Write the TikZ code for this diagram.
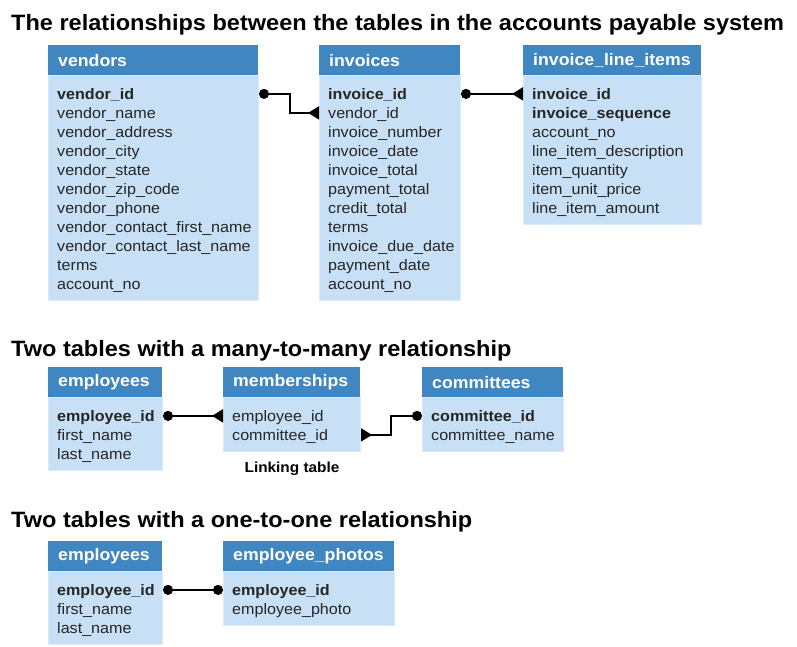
\documentclass[tikz,border=0pt]{standalone}
\usepackage{fontspec}
\setmainfont{Liberation Sans}[FakeStretch=1.06]
\usepackage{tikz}
\usetikzlibrary{arrows.meta,positioning}

\definecolor{headblue}{RGB}{64,134,192}
\definecolor{bodyblue}{RGB}{200,224,245}
\definecolor{edgeblue}{RGB}{218,234,249}
\definecolor{fieldgray}{RGB}{38,38,38}

\tikzset{
  heading/.style={anchor=base west, inner sep=0pt, font=\fontsize{22.2}{26}\selectfont\bfseries},
  tblhead/.style={fill=headblue, anchor=north west, minimum height=30pt, inner sep=0pt},
  tbltitle/.style={text=white, inner sep=0pt, font=\fontsize{16.7}{20}\selectfont\bfseries},
  tblbody/.style={fill=bodyblue, draw=edgeblue, line width=1pt, anchor=north west, inner sep=0pt},
  pkey/.style={anchor=west, inner sep=0pt, text height=11pt, text depth=0pt, text=fieldgray, font=\fontsize{15.2}{18}\selectfont\bfseries},
  attr/.style={pkey, font=\fontsize{15.2}{18}\selectfont},
  note/.style={inner sep=0pt, font=\fontsize{14.5}{17}\selectfont\bfseries},
  link/.style={line width=1.8pt, {Circle[length=10pt]}-{Triangle[reversed,length=11pt,width=13pt]}},
  oneone/.style={line width=1.8pt, {Circle[length=10pt]}-{Circle[length=10pt]}}
}

\begin{document}
\begin{tikzpicture}[x=1pt,y=-1pt]

\useasboundingbox (0,0) rectangle (797,647);

\begin{scope}
\def\dbtable(#1)#2#3#4#5#6{%
	\node[tblhead, minimum width=#3pt] (#2) at (#1) {}; % header bar
	\node[tbltitle, right=10pt of #2.west] (#2-title) {#5}; % table name
	\node[tblbody, minimum width=#3pt, minimum height={19pt*#4+16pt}] (#2-body) at (#2.south west) {}; % body
	\foreach \k/\f [count=\i] in {#6}
		\node[\k] (#2-\i) at ([xshift=9pt,yshift={-19pt*\i+0.5pt}]#2.south west) {\f}; % columns
}

% Accounts payable system
\node[heading] (title1) at (11,31) {The relationships between the tables in the accounts payable system};
\dbtable(48,45){vendors}{210}{11}{vendors}{pkey/vendor\_id, attr/vendor\_name, attr/vendor\_address, attr/vendor\_city, attr/vendor\_state, attr/vendor\_zip\_code, attr/vendor\_phone, attr/vendor\_contact\_first\_name, attr/vendor\_contact\_last\_name, attr/terms, attr/account\_no}
\dbtable(319,45){invoices}{141}{11}{invoices}{pkey/invoice\_id, attr/vendor\_id, attr/invoice\_number, attr/invoice\_date, attr/invoice\_total, attr/payment\_total, attr/credit\_total, attr/terms, attr/invoice\_due\_date, attr/payment\_date, attr/account\_no}
\dbtable(523,45){items}{178}{7}{invoice\_line\_items}{pkey/invoice\_id, pkey/invoice\_sequence, attr/account\_no, attr/line\_item\_description, attr/item\_quantity, attr/item\_unit\_price, attr/line\_item\_amount}

\draw[link] (vendors-1 -| vendors-body.east) -- ++(31,0) |- (invoices-2 -| invoices-body.west);
\draw[link] (invoices-1 -| invoices-body.east) -- (items-1 -| items-body.west);

% Many-to-many
\node[heading] (title2) at (11,356) {Two tables with a many-to-many relationship};
\dbtable(48,367){emps}{114}{3}{employees}{pkey/employee\_id, attr/first\_name, attr/last\_name}
\dbtable(223,367){members}{137}{2}{memberships}{attr/employee\_id, attr/committee\_id}
\dbtable(422,367){cmtes}{141}{2}{committees}{pkey/committee\_id, attr/committee\_name}
\node[note, below=9pt of members-body] (linknote) {Linking table};

\draw[link] (emps-1 -| emps-body.east) -- (members-1 -| members-body.west);
\draw[link] (cmtes-1 -| cmtes-body.west) -- ++(-31,0) |- (members-2 -| members-body.east);

% One-to-one
\node[heading] (title3) at (11,527) {Two tables with a one-to-one relationship};
\dbtable(48,541){empsb}{114}{3}{employees}{pkey/employee\_id, attr/first\_name, attr/last\_name}
\dbtable(223,541){photos}{171}{2}{employee\_photos}{pkey/employee\_id, attr/employee\_photo}

\draw[oneone] (empsb-1 -| empsb-body.east) -- (photos-1 -| photos-body.west);
\end{scope}
\end{tikzpicture}
\end{document}
